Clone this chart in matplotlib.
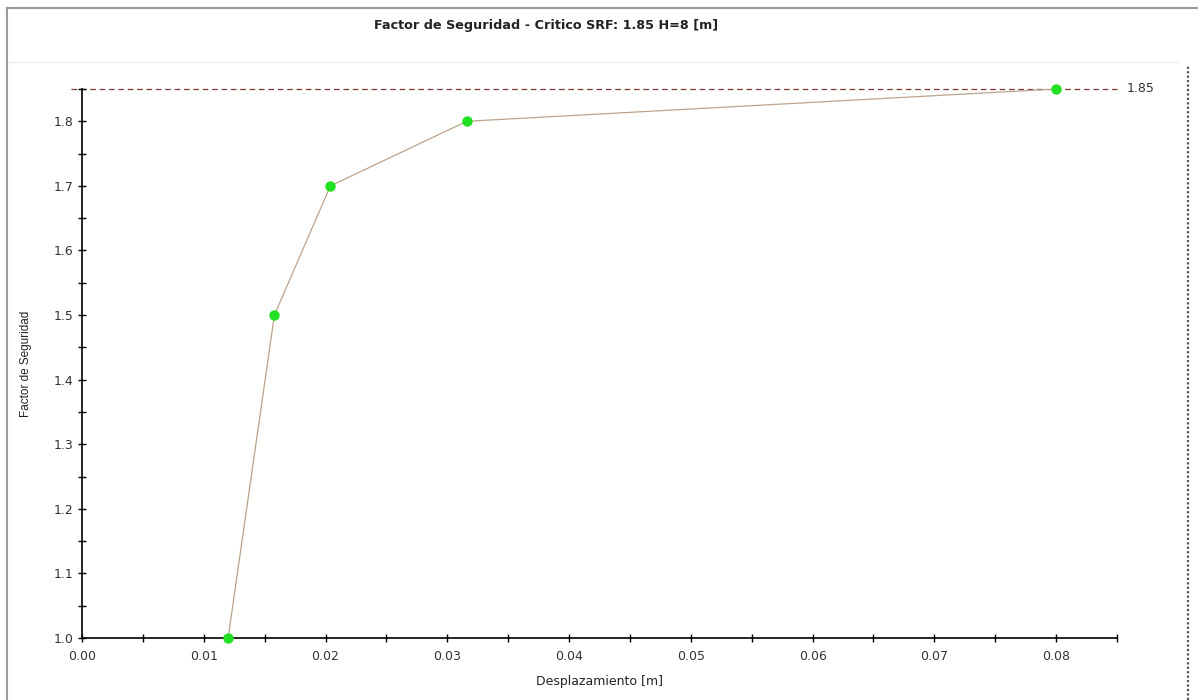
import matplotlib
matplotlib.use("Agg")
import matplotlib.pyplot as plt
from matplotlib.ticker import MultipleLocator, FormatStrFormatter
from matplotlib.lines import Line2D

# datos
desplazamiento = [0.0120, 0.0158, 0.0204, 0.0316, 0.0800]
factor_seguridad = [1.00, 1.50, 1.70, 1.80, 1.85]
srf_critico = 1.85
titulo = "Factor de Seguridad - Critico SRF: 1.85 H=8 [m]"

plt.rcParams['font.family'] = ['DejaVu Sans']

fig = plt.figure(figsize=(12, 7), dpi=100)
ax = fig.add_axes([82/1200, 1 - 638/700, (1117 - 82)/1200, (638 - 89)/700])

# linea del SRF critico (sale un poco fuera del eje por la izquierda)
ax.plot([-0.0009, 0.085], [srf_critico, srf_critico], color='#7a3535', lw=0.9,
        dashes=(4.5, 3), clip_on=False, zorder=1)
ax.text(0.0858, srf_critico, "1.85", fontsize=9, color='#333333', va='center', ha='left')

ax.plot(desplazamiento, factor_seguridad, color='#bba48c', lw=0.9, zorder=2)
ax.plot(desplazamiento, factor_seguridad, 'o', color='#22e022', ms=6.5, mec='#22e022',
        zorder=3, clip_on=False)

ax.set_xlim(0, 0.085)
ax.set_ylim(1.0, 1.85)
ax.xaxis.set_major_locator(MultipleLocator(0.01))
ax.xaxis.set_minor_locator(MultipleLocator(0.005))
ax.yaxis.set_major_locator(MultipleLocator(0.1))
ax.yaxis.set_minor_locator(MultipleLocator(0.05))
ax.xaxis.set_major_formatter(FormatStrFormatter('%.2f'))
ax.yaxis.set_major_formatter(FormatStrFormatter('%.1f'))

ax.spines['top'].set_visible(False)
ax.spines['right'].set_visible(False)
for s in ['left', 'bottom']:
    ax.spines[s].set_linewidth(1.2)
    ax.spines[s].set_color('black')

ax.tick_params(which='both', direction='inout', length=6, width=1, color='black',
               labelsize=9, labelcolor='#333333')
ax.tick_params(axis='x', pad=6)
ax.tick_params(axis='y', pad=3)

ax.set_xlabel("Desplazamiento [m]", fontsize=9, color='#222222', labelpad=8)
ax.set_ylabel("Factor de Seguridad", fontsize=8.5, color='#222222', labelpad=16,
              family='Liberation Sans')

fig.text(546/1200, 1 - 25/700, titulo, fontsize=9.2, fontweight='bold',
         ha='center', va='center', color='#222222')

# marco exterior de la ventana
fig.add_artist(Line2D([7/1200, 7/1200], [0, 1 - 8/700], color='#999999', lw=1.5))
fig.add_artist(Line2D([7/1200, 1197/1200], [1 - 8/700, 1 - 8/700], color='#999999', lw=1.5))
fig.add_artist(Line2D([1188/1200, 1188/1200], [0, 1 - 65/700], color='#555555', lw=1.6,
                      linestyle=(0, (1, 1))))
fig.add_artist(Line2D([8/1200, 1180/1200], [1 - 62/700, 1 - 62/700], color='#f0f0f0', lw=1))

fig.savefig("out.png", dpi=100)
